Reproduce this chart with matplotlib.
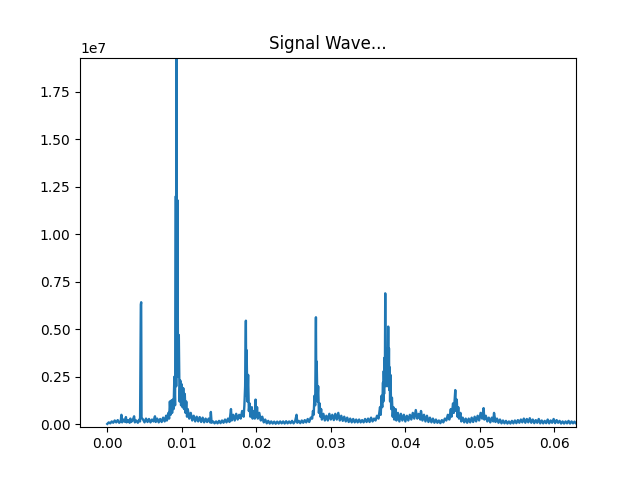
import numpy as np
import matplotlib.pyplot as plt

# Spectrum (frequency, magnitude in units of 1e6)
freq = [
    0.0000, 0.0002, 0.0004, 0.0006, 0.0008, 0.0010, 0.0012, 0.0014, 0.0016, 0.0018,
    0.0019, 0.0020, 0.0022, 0.0024, 0.0025, 0.0026, 0.0028, 0.0030, 0.0031, 0.0032,
    0.0034, 0.0036, 0.0037, 0.0039, 0.0041, 0.0043, 0.0044, 0.0045, 0.00455, 0.0046,
    # 0.0048 - 0.0083
    0.0048, 0.0050, 0.0052, 0.0054, 0.0056, 0.0058, 0.0060, 0.0062, 0.0064, 0.0065,
    0.0067, 0.0069, 0.0071, 0.0073, 0.0075, 0.0077, 0.0079, 0.0080, 0.0082, 0.0083,
    # main peak
    0.0084, 0.0085, 0.0086, 0.0087, 0.0088, 0.0089, 0.0090, 0.0091, 0.0092, 0.00925,
    0.0093, 0.00935, 0.0094, 0.0095, 0.0096, 0.0097, 0.0098, 0.0099, 0.0100, 0.0101,
    0.0102, 0.0103, 0.0104, 0.0105, 0.0106, 0.0107, 0.0108,
    # 0.0110 - 0.0183
    0.0110, 0.0112, 0.0114, 0.0116, 0.0118, 0.0120, 0.0122, 0.0124, 0.0126, 0.0128,
    0.0130, 0.0132, 0.0134, 0.0136, 0.0138, 0.0139, 0.0140, 0.0142, 0.0144, 0.0146,
    0.0148, 0.0150, 0.0152, 0.0154, 0.0156, 0.0158, 0.0160, 0.0162, 0.0164, 0.0166,
    0.0167, 0.0169, 0.0171, 0.0173, 0.0175, 0.0177, 0.0179, 0.0181, 0.0183,
    # peak ~0.0186
    0.0184, 0.0185, 0.0186, 0.01865, 0.0187, 0.0188, 0.0189, 0.0190, 0.0191, 0.0192,
    0.0194, 0.0195, 0.0197, 0.0198, 0.0199, 0.0200, 0.0201, 0.0202, 0.0204, 0.0206,
    0.0208, 0.0210, 0.0212, 0.0214,
    # 0.0216 - 0.0276
    0.0216, 0.0218, 0.0220, 0.0222, 0.0224, 0.0226, 0.0228, 0.0230, 0.0232, 0.0234,
    0.0236, 0.0238, 0.0240, 0.0242, 0.0244, 0.0246, 0.0248, 0.0250, 0.0252, 0.0254,
    0.0255, 0.0257, 0.0259, 0.0261, 0.0263, 0.0265, 0.0267, 0.0269, 0.0271, 0.0273,
    0.0275, 0.0276,
    # peak ~0.028
    0.0277, 0.0278, 0.0279, 0.0280, 0.02805, 0.0281, 0.0282, 0.0283, 0.0284, 0.0285,
    0.0286, 0.0287, 0.0288, 0.0290, 0.0292,
    # 0.0294 - 0.0364
    0.0294, 0.0296, 0.0298, 0.0300, 0.0302, 0.0304, 0.0306, 0.0308, 0.0310, 0.0312,
    0.0314, 0.0316, 0.0318, 0.0320, 0.0322, 0.0324, 0.0326, 0.0328, 0.0330, 0.0332,
    0.0334, 0.0336, 0.0338, 0.0340, 0.0342, 0.0344, 0.0346, 0.0348, 0.0350, 0.0352,
    0.0354, 0.0356, 0.0358, 0.0360, 0.0362, 0.0364,
    # peak ~0.0374
    0.0366, 0.0367, 0.0368, 0.0369, 0.0370, 0.03705, 0.0371, 0.03715, 0.0372, 0.03725,
    0.0373, 0.03735, 0.0374, 0.03745, 0.0375, 0.03755, 0.0376, 0.03765, 0.0377, 0.03775,
    0.0378, 0.03785, 0.0379, 0.03795, 0.0380, 0.0381, 0.0382, 0.0383, 0.0384, 0.0385,
    0.0387, 0.0388, 0.0390,
    # 0.0392 - 0.0453
    0.0392, 0.0394, 0.0396, 0.0398, 0.0400, 0.0402, 0.0404, 0.0406, 0.0408, 0.0410,
    0.0412, 0.0414, 0.0416, 0.0418, 0.0420, 0.0421, 0.0423, 0.0425, 0.0427, 0.0429,
    0.0431, 0.0433, 0.0435, 0.0437, 0.0439, 0.0441, 0.0443, 0.0445, 0.0447, 0.0449,
    0.0451, 0.0453,
    # peak ~0.0467
    0.0455, 0.0457, 0.0459, 0.0461, 0.0462, 0.0464, 0.0465, 0.0467, 0.0468, 0.0469,
    0.0470, 0.0471, 0.0472, 0.0474, 0.0475, 0.0477, 0.0479, 0.0481,
    # tail
    0.0483, 0.0485, 0.0487, 0.0489, 0.0491, 0.0493, 0.0495, 0.0497, 0.0499, 0.0501,
    0.0503, 0.0505, 0.0506, 0.0508, 0.0510, 0.0512, 0.0514, 0.0516, 0.0518, 0.0519,
    0.0521, 0.0523, 0.0525, 0.0527, 0.0529, 0.0531, 0.0533, 0.0535, 0.0537, 0.0539,
    0.0541, 0.0543, 0.0545, 0.0547, 0.0549, 0.0551, 0.0553, 0.0555, 0.0557, 0.0559,
    0.0561, 0.0563, 0.0565, 0.0567, 0.0569, 0.0571, 0.0573, 0.0575, 0.0577, 0.0579,
    0.0581, 0.0583, 0.0585, 0.0587, 0.0589, 0.0591, 0.0593, 0.0595, 0.0597, 0.0599,
    0.0601, 0.0603, 0.0605, 0.0607, 0.0609, 0.0611, 0.0613, 0.0615, 0.0617, 0.0619,
    0.0621, 0.0623, 0.0625, 0.0627, 0.0629, 0.0631, 0.0633, 0.0635,
]

mag = [
    0.02, 0.10, 0.05, 0.15, 0.08, 0.20, 0.10, 0.22, 0.08, 0.15,
    0.50, 0.10, 0.25, 0.12, 0.38, 0.10, 0.22, 0.08, 0.30, 0.12,
    0.20, 0.42, 0.10, 0.20, 0.08, 0.25, 0.15, 6.30, 6.42, 0.35,
    0.25, 0.10, 0.30, 0.12, 0.28, 0.10, 0.25, 0.15, 0.42, 0.12,
    0.30, 0.10, 0.28, 0.12, 0.35, 0.15, 0.45, 0.20, 0.60, 0.30,
    1.20, 0.50, 1.25, 0.60, 1.30, 0.80, 2.50, 1.00, 12.0, 2.00,
    19.6, 3.00, 11.8, 2.50, 4.70, 1.20, 2.30, 1.00, 2.10, 0.90,
    1.90, 0.80, 1.60, 0.60, 1.20, 0.40, 0.80,
    0.30, 0.60, 0.20, 0.45, 0.15, 0.40, 0.15, 0.38, 0.12, 0.35,
    0.10, 0.30, 0.12, 0.30, 0.10, 0.65, 0.08, 0.15, 0.05, 0.15,
    0.05, 0.18, 0.06, 0.20, 0.08, 0.25, 0.10, 0.30, 0.12, 0.80,
    0.20, 0.50, 0.20, 0.55, 0.25, 0.50, 0.30, 0.70, 0.40,
    1.00, 2.00, 5.45, 1.50, 3.90, 1.20, 2.60, 0.70, 1.10, 0.40,
    0.90, 0.30, 0.70, 0.30, 1.30, 0.40, 0.90, 0.30, 0.60, 0.20,
    0.40, 0.10, 0.25, 0.05,
    0.18, 0.04, 0.15, 0.04, 0.14, 0.03, 0.14, 0.04, 0.15, 0.05,
    0.15, 0.04, 0.16, 0.05, 0.15, 0.06, 0.18, 0.05, 0.15, 0.50,
    0.08, 0.18, 0.06, 0.20, 0.08, 0.22, 0.10, 0.28, 0.12, 0.35,
    0.30, 0.70,
    0.50, 1.50, 1.00, 5.63, 1.80, 3.30, 1.20, 2.00, 0.60, 1.10,
    0.40, 0.80, 0.25, 0.55, 0.20,
    0.45, 0.20, 0.55, 0.25, 0.50, 0.22, 0.55, 0.25, 0.60, 0.20,
    0.45, 0.18, 0.40, 0.15, 0.35, 0.12, 0.30, 0.10, 0.28, 0.10,
    0.25, 0.10, 0.25, 0.10, 0.22, 0.10, 0.28, 0.12, 0.30, 0.12,
    0.35, 0.15, 0.30, 0.20, 0.45, 0.30,
    0.90, 0.50, 1.50, 0.90, 2.20, 1.20, 2.80, 1.60, 3.50, 2.00,
    6.89, 2.50, 4.00, 2.20, 3.60, 2.00, 3.80, 2.40, 5.14, 2.20,
    4.00, 1.80, 3.00, 1.20, 2.60, 0.80, 1.40, 0.40, 0.90, 0.25,
    0.80, 0.20, 0.60,
    0.15, 0.55, 0.20, 0.50, 0.15, 0.45, 0.20, 0.50, 0.25, 0.60,
    0.30, 0.75, 0.30, 0.55, 0.25, 0.70, 0.20, 0.50, 0.15, 0.45,
    0.12, 0.35, 0.10, 0.30, 0.08, 0.25, 0.08, 0.20, 0.06, 0.22,
    0.10, 0.30,
    0.20, 0.50, 0.25, 0.80, 0.40, 1.10, 0.60, 1.80, 0.70, 1.30,
    0.40, 0.90, 0.30, 0.60, 0.15, 0.35, 0.10, 0.30,
    0.08, 0.30, 0.10, 0.35, 0.12, 0.40, 0.15, 0.45, 0.20, 0.60,
    0.30, 0.85, 0.25, 0.45, 0.15, 0.35, 0.10, 0.35, 0.15, 0.60,
    0.12, 0.30, 0.08, 0.25, 0.05, 0.20, 0.05, 0.18, 0.04, 0.15,
    0.04, 0.18, 0.05, 0.20, 0.06, 0.22, 0.08, 0.25, 0.10, 0.30,
    0.08, 0.28, 0.10, 0.32, 0.08, 0.25, 0.06, 0.22, 0.08, 0.28,
    0.05, 0.20, 0.05, 0.18, 0.06, 0.25, 0.05, 0.20, 0.08, 0.28,
    0.06, 0.22, 0.08, 0.18, 0.04, 0.15, 0.04, 0.15, 0.05, 0.18,
    0.04, 0.15, 0.05, 0.14, 0.04, 0.12, 0.04, 0.12,
]

assert len(freq) == len(mag)

plt.figure(figsize=(6.4, 4.8), dpi=100)
plt.plot(freq, np.array(mag) * 1e6, linewidth=1.7)
plt.title('Signal Wave...')
plt.xlim(-0.00366, 0.0629)
plt.ylim(-0.153e6, 1.929e7)
plt.savefig('out.png')
